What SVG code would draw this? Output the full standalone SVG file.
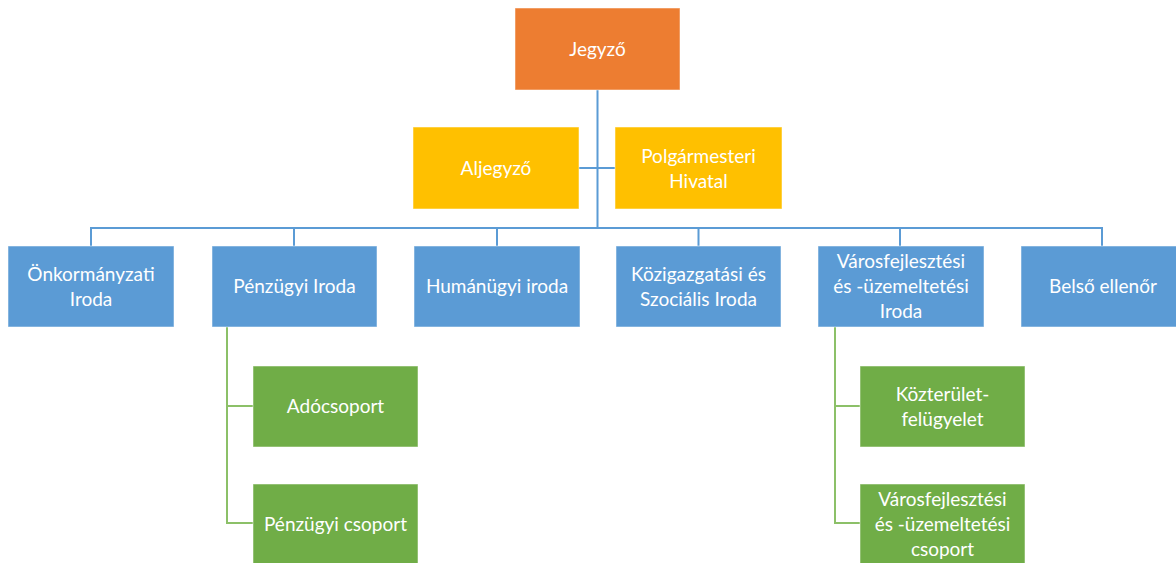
<svg xmlns="http://www.w3.org/2000/svg" width="1176" height="563" viewBox="0 0 1176 563">
<style>
text{font-family:Lato,"Open Sans","Liberation Sans",sans-serif;font-size:19px;fill:#fff;text-anchor:middle}
rect{stroke:#fff;stroke-opacity:0.5;stroke-width:1}
.o{fill:#ED7D31}.y{fill:#FFC000}.b{fill:#5B9BD5}.g{fill:#70AD47}
.cb{stroke:#5B9BD5;stroke-width:2;fill:none}
.cg{stroke:#8CC068;stroke-width:2;fill:none}
</style>
<rect width="1176" height="563" fill="#fff" stroke="none"/>
<g id="connectors">
<path class="cb" d="M597.5 90V228M579 168H615M91 228H1102M91 227V246M294 227V246M497 227V246M698.5 227V246M900 227V246M1102 227V246"/>
<path class="cg" d="M227 327V523H253M227 406H253M835 327V523H860M835 406H860"/>
</g>
<g id="n-jegyzo"><rect class="o" x="515" y="8" width="165" height="82"/><text x="597.5" y="55.5">Jegyző</text></g>
<g id="n-aljegyzo"><rect class="y" x="413" y="127" width="166" height="82"/><text x="496" y="174.5">Aljegyző</text></g>
<g id="n-polgarmesteri"><rect class="y" x="615" y="127" width="167" height="82"/><text x="698.5" y="162.5">Polgármesteri</text><text x="698.5" y="187.5">Hivatal</text></g>
<g id="n-onkormanyzati"><rect class="b" x="8" y="246" width="166" height="81"/><text x="91" y="280.5">Önkormányzati</text><text x="91" y="305.5">Iroda</text></g>
<g id="n-penzugyi"><rect class="b" x="212" y="246" width="165" height="81"/><text x="294.5" y="293">Pénzügyi Iroda</text></g>
<g id="n-humanugyi"><rect class="b" x="414" y="246" width="166" height="81"/><text x="497" y="293">Humánügyi iroda</text></g>
<g id="n-kozigazgatasi"><rect class="b" x="616" y="246" width="165" height="81"/><text x="698.5" y="280.5">Közigazgatási és</text><text x="698.5" y="305.5">Szociális Iroda</text></g>
<g id="n-varosfejlesztesi"><rect class="b" x="818" y="246" width="166" height="81"/><text x="901" y="268">Városfejlesztési</text><text x="901" y="293">és -üzemeltetési</text><text x="901" y="318">Iroda</text></g>
<g id="n-belso"><rect class="b" x="1021" y="246" width="165" height="81"/><text x="1103" y="293">Belső ellenőr</text></g>
<g id="n-adocsoport"><rect class="g" x="253" y="366" width="165" height="81"/><text x="335.5" y="413">Adócsoport</text></g>
<g id="n-penzugyicsoport"><rect class="g" x="253" y="484" width="165" height="81"/><text x="335.5" y="531">Pénzügyi csoport</text></g>
<g id="n-kozterulet"><rect class="g" x="860" y="366" width="165" height="81"/><text x="942.5" y="400.5">Közterület-</text><text x="942.5" y="425.5">felügyelet</text></g>
<g id="n-varoscsoport"><rect class="g" x="860" y="484" width="165" height="81"/><text x="942.5" y="505.5">Városfejlesztési</text><text x="942.5" y="530.5">és -üzemeltetési</text><text x="942.5" y="556">csoport</text></g>
</svg>
